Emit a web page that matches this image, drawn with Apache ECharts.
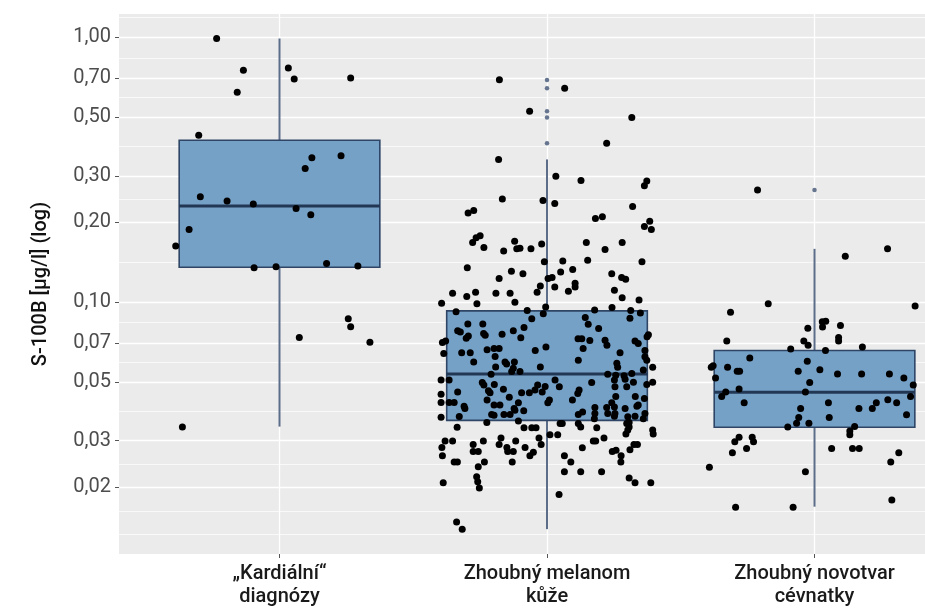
<!DOCTYPE html>
<html>
<head>
<meta charset="utf-8">
<script src="https://cdn.jsdelivr.net/npm/echarts@6/dist/echarts.min.js"></script>
<style>
  html, body { margin: 0; background: #fff; }
  #chart { width: 925px; height: 610px; }
</style>
</head>
<body>
<div id="chart"></div>
<script>
// kategorie na ose x
const groups = ['„Kardiální“\ndiagnózy', 'Zhoubný melanom\nkůže', 'Zhoubný novotvar\ncévnatky'];

// popisky osy y (log)
const yTicks = [0.02, 0.03, 0.05, 0.07, 0.1, 0.2, 0.3, 0.5, 0.7, 1];
const yMinor = [0.0133, 0.0163, 0.0245, 0.0387, 0.0592, 0.0837, 0.1414, 0.245, 0.387, 0.592, 0.837, 1.195];

// krabice: dolni vous, Q1, median, Q3, horni vous
const boxLow = [0.0339, 0.0139, 0.0169];
const boxQ1 = [0.1355, 0.0358, 0.0337];
const boxMedian = [0.231, 0.0536, 0.0457];
const boxQ3 = [0.409, 0.0927, 0.0657];
const boxHigh = [0.99, 0.346, 0.159];
const outliers = [[], [0.690, 0.642, 0.526, 0.498, 0.398], [0.265]];

// jednotlive hodnoty (jitter = posun v ose x)
const g1Val = [0.99,0.751,0.766,0.696,0.702,0.62,0.427,0.351,0.357,0.320,0.250,0.241,0.235,0.226,0.214,0.188,0.163,0.135,0.136,0.140,0.137,0.0736,0.0866,0.0808,0.0706,0.0338];
const g1Jit = [-0.235,-0.135,0.033,0.055,0.266,-0.158,-0.302,0.121,0.230,0.096,-0.296,-0.196,-0.098,0.062,0.117,-0.338,-0.388,-0.095,-0.013,0.176,0.293,0.074,0.257,0.266,0.338,-0.363];

const g2Val = [0.692,0.642,0.526,0.498,0.398,0.346,0.299,0.288,0.287,0.275,
  0.245,0.242,0.236,0.230,0.222,0.217,0.210,0.207,0.202,0.193,
  0.188,0.178,0.175,0.168,0.170,0.166,0.168,0.168,0.161,0.156,
  0.159,0.160,0.159,0.158,0.142,0.143,0.144,0.142,0.135,0.131,
  0.128,0.130,0.133,0.128,
  0.123,0.123,0.124,0.118,0.114,0.124,0.122,0.108,0.105,0.109,
  0.0987,0.108,0.108,0.100,0.109,0.115,0.114,0.110,0.111,0.104,
  0.102,0.099,0.0958,0.0920,0.0931,0.0904,0.0935,0.0955,0.0931,0.0910,
  0.0869,0.0866,0.0876,0.0826,0.0828,0.0828,0.0803,0.0795,0.0780,0.0771,
  0.0746,0.0731,0.0762,0.0750,0.0756,0.0780,0.0734,0.0728,0.0728,0.0716,
  0.0718,0.0688,0.0714,0.0698,0.0753,0.0740,0.0705,0.0714,0.0661,0.0669,
  0.0669,0.0645,0.0645,0.0657,0.0677,0.0669,0.0645,0.0657,0.0640,
  0.0624,0.0595,0.0569,0.0595,0.0584,0.0595,0.0563,0.0547,0.0547,0.0569,
  0.0604,0.0588,0.0568,0.0622,0.0604,0.0568,0.0554,0.0535,0.0535,0.0530,
  0.0528,0.0538,0.0508,0.0508,0.0497,0.0487,0.0489,0.0487,0.0480,0.0458,
  0.0508,0.0479,0.0497,0.0508,0.0479,0.0512,0.0479,0.0499,0.0489,0.0499,
  0.0458,0.0463,0.0455,0.0469,0.0438,0.0455,0.0455,0.0466,0.0449,0.0466,
  0.0452,0.0427,0.0440,0.0433,0.0440,0.0418,0.0418,0.0418,0.0405,0.0397,
  0.0427,0.0409,0.0409,0.0417,0.0397,0.0427,0.0417,0.0400,0.0380,0.0400,
  0.0417,0.0402,0.0380,0.0397,0.0405,0.0409,0.0368,0.0370,0.0377,0.0374,
  0.0377,0.0377,0.0391,0.0389,0.0377,0.0385,0.0363,0.0380,0.0371,0.0369,
  0.0351,0.0371,0.0363,0.0380,0.0351,0.0356,0.0337,0.0336,0.0336,0.0336,
  0.0348,0.0348,0.0348,0.0338,0.0336,0.0348,0.0338,0.0329,
  0.0318,0.0318,0.0316,0.0316,0.0299,0.0299,0.0299,0.0307,0.0299,0.0307,
  0.0290,0.0290,0.0283,0.0273,0.0273,0.0283,0.0290,0.0283,0.0273,0.0273,
  0.0271,0.0263,0.0249,0.0239,0.0263,0.0249,0.0249,0.0249,0.0219,0.0210,
  0.0199,0.0208,0.0148,0.0139,0.0299,0.0299,0.0307,0.0282,0.0263,0.0249,
  0.0229,0.0229,0.0229,0.0188,0.0273,0.0276,0.0263,0.0249,0.0277,0.0290,
  0.0290,0.0217,0.0208,0.0208,0.0329];
const g2Jit = [-0.178,0.066,-0.065,0.317,0.223,-0.181,0.033,0.127,0.373,0.364,
  -0.167,-0.015,0.029,0.320,-0.274,-0.295,0.207,0.181,0.384,0.364,
  0.390,-0.250,-0.265,-0.278,-0.121,-0.020,0.147,0.281,-0.236,-0.162,
  -0.113,-0.101,-0.060,0.217,-0.010,0.059,0.152,0.355,-0.298,-0.133,
  -0.090,0.051,0.096,0.242,
  -0.179,0.004,0.019,0.105,0.105,0.279,0.294,-0.353,-0.300,-0.267,
  -0.262,-0.191,-0.138,-0.120,-0.037,-0.025,0.029,0.080,0.252,0.281,
  0.344,-0.394,-0.005,-0.340,-0.074,-0.014,0.178,0.243,0.313,0.349,
  0.310,-0.057,0.143,0.154,-0.296,-0.240,-0.086,0.193,-0.334,-0.324,
  -0.294,-0.302,-0.237,-0.231,-0.168,-0.126,-0.098,0.116,0.130,0.160,
  0.217,0.224,0.329,0.341,0.379,0.374,-0.391,-0.379,-0.224,-0.198,
  -0.179,-0.319,-0.287,-0.044,-0.004,0.135,0.273,0.366,-0.386,
  -0.194,-0.274,-0.192,-0.157,-0.151,-0.122,-0.126,-0.132,-0.101,-0.025,
  0.117,0.261,0.264,0.366,0.373,0.395,0.360,-0.209,0.227,0.257,
  0.288,0.317,-0.396,-0.366,-0.242,-0.236,-0.197,-0.035,-0.007,-0.018,
  0.030,0.046,0.167,0.252,0.254,0.292,0.298,0.323,0.373,0.395,
  -0.334,-0.219,-0.213,-0.163,-0.141,-0.095,-0.066,-0.045,-0.396,0.120,
  0.115,0.095,0.330,0.364,0.257,-0.396,-0.366,-0.347,-0.310,-0.307,
  -0.224,-0.198,-0.176,-0.107,-0.123,0.009,0.003,0.179,0.179,0.223,
  0.242,0.252,0.254,0.292,0.336,0.341,-0.396,-0.328,-0.207,-0.198,
  -0.161,-0.138,-0.120,-0.087,0.117,0.133,0.177,0.227,0.252,0.302,
  0.307,0.329,0.360,0.366,-0.225,-0.107,-0.336,-0.086,-0.057,-0.041,
  0.049,0.057,0.117,0.126,0.186,0.298,0.307,0.395,
  0.295,0.397,0.011,0.040,-0.381,-0.353,-0.238,-0.172,-0.117,-0.030,
  -0.022,-0.179,-0.150,-0.147,-0.126,-0.082,-0.276,-0.393,-0.276,-0.257,
  -0.051,-0.064,-0.234,-0.257,-0.391,-0.347,-0.335,-0.130,-0.263,-0.259,
  -0.253,-0.388,-0.338,-0.317,0.173,0.182,0.213,0.132,0.065,0.089,
  0.065,0.126,0.204,0.045,0.244,0.258,0.277,0.276,0.310,0.325,
  0.338,0.307,0.329,0.388,0.302];

const g3Val = [0.265,0.159,0.149,0.0987,0.0916,0.0967,0.0797,0.0843,0.0848,0.0806,
  0.0817,0.0714,0.0688,0.0735,0.0714,0.0714,0.0665,0.0677,0.0657,0.0616,
  0.0598,0.0568,0.0575,0.0568,0.0549,0.0549,0.0549,0.0556,0.0536,0.0536,
  0.0536,0.0517,0.0517,0.0498,0.0487,0.0470,0.0458,0.0440,0.0458,0.0417,
  0.0417,0.0417,0.0428,0.0417,0.0440,0.0397,0.0397,0.0397,0.0376,0.0367,
  0.0367,0.0349,0.0349,0.0338,0.0339,0.0326,0.0316,0.0309,0.0297,0.0309,
  0.0297,0.0270,0.0280,0.0280,0.0280,0.0280,0.0238,0.0229,0.0249,0.0270,
  0.0168,0.0168,0.0179];
const g3Jit = [-0.213,0.273,0.115,-0.173,-0.314,0.376,-0.025,0.029,0.042,0.030,
  0.097,-0.040,-0.024,0.090,0.090,-0.328,-0.089,0.179,0.041,-0.242,
  -0.027,-0.386,-0.379,-0.325,-0.289,-0.280,-0.061,0.020,0.086,0.176,
  0.280,0.334,-0.370,-0.018,0.369,-0.282,-0.332,-0.347,-0.034,-0.263,
  0.052,0.231,0.274,0.307,0.359,0.216,0.166,-0.052,0.344,-0.059,
  0.055,-0.067,-0.021,-0.100,0.150,0.132,0.132,-0.282,-0.298,-0.233,
  -0.228,-0.307,-0.254,0.064,0.142,0.167,-0.393,-0.034,0.285,0.315,
  -0.295,-0.080,0.289];

const font = 'Roboto, "Liberation Sans", sans-serif';
const boxWidth = 0.75;

const chart = echarts.init(document.getElementById('chart'));

const boxData = groups.map((g, i) => [i + 1, boxLow[i], boxQ1[i], boxMedian[i], boxQ3[i], boxHigh[i]]);
let pointData = [];
[[g1Val, g1Jit], [g2Val, g2Jit], [g3Val, g3Jit]].forEach(([vals, jit], i) => {
  vals.forEach((v, k) => pointData.push([i + 1 + jit[k], v]));
});
let outlierData = [];
outliers.forEach((list, i) => list.forEach(v => outlierData.push([i + 1, v])));

chart.setOption({
  animation: false,
  backgroundColor: '#fff',
  grid: {
    left: 119, top: 14, right: 0, bottom: 56,
    show: true, backgroundColor: '#ebebeb', borderWidth: 0
  },
  // rozsah 0.4 .. 3.6 je vpravo oriznuty okrajem obrazku
  xAxis: {
    type: 'value', min: 0.4, max: 3.413,
    axisLine: { show: false },
    axisTick: { show: true, length: 4, customValues: [1, 2, 3], lineStyle: { color: '#555', width: 1 } },
    axisLabel: {
      customValues: [1, 2, 3],
      formatter: v => groups[Math.round(v) - 1],
      color: '#1a1a1a', fontSize: 20, fontWeight: 500, lineHeight: 23, margin: 8, fontFamily: font
    },
    splitLine: { show: true, lineStyle: { color: '#fff', width: 1.3 } }
  },
  yAxis: [{
    type: 'log', logBase: 10, min: 0.0112, max: 1.225,
    name: 'S-100B [µg/l] (log)', nameLocation: 'middle', nameGap: 68,
    nameTextStyle: { color: '#111', fontSize: 20, fontWeight: 500, fontFamily: font },
    axisLine: { show: false },
    axisTick: { show: true, length: 4, customValues: yTicks, lineStyle: { color: '#555', width: 1 } },
    axisLabel: {
      customValues: yTicks,
      formatter: v => v.toFixed(2).replace('.', ','),
      color: '#4d4d4d', fontSize: 20, margin: 8, fontFamily: font
    },
    splitLine: { show: true, lineStyle: { color: '#fff', width: 1.3 } }
  }, {
    type: 'log', logBase: 10, min: 0.0112, max: 1.225,
    axisLine: { show: false },
    axisTick: { show: false, customValues: yMinor },
    axisLabel: { show: false, customValues: yMinor },
    splitLine: { show: true, lineStyle: { color: '#fff', width: 0.7 } }
  }],
  series: [{
    type: 'custom',
    data: boxData,
    encode: { x: 0, y: [1, 2, 3, 4, 5] },
    renderItem: function (params, api) {
      const x = api.value(0);
      const med = api.value(3);
      const left = api.coord([x - boxWidth / 2, med])[0];
      const right = api.coord([x + boxWidth / 2, med])[0];
      const cx = api.coord([x, med])[0];
      const yLow = api.coord([x, api.value(1)])[1];
      const yQ1 = api.coord([x, api.value(2)])[1];
      const yMed = api.coord([x, med])[1];
      const yQ3 = api.coord([x, api.value(4)])[1];
      const yHigh = api.coord([x, api.value(5)])[1];
      return {
        type: 'group',
        children: [
          { type: 'line', shape: { x1: cx, y1: yQ3, x2: cx, y2: yHigh }, style: { stroke: '#5c6d8a', lineWidth: 2 } },
          { type: 'line', shape: { x1: cx, y1: yQ1, x2: cx, y2: yLow }, style: { stroke: '#5c6d8a', lineWidth: 2 } },
          { type: 'rect', shape: { x: left, y: yQ3, width: right - left, height: yQ1 - yQ3 },
            style: { fill: '#76a1c7', stroke: '#2e4566', lineWidth: 1.6 } },
          { type: 'line', shape: { x1: left, y1: yMed, x2: right, y2: yMed }, style: { stroke: '#223754', lineWidth: 3 } }
        ]
      };
    }
  }, {
    type: 'scatter',
    data: outlierData,
    symbolSize: 4.5,
    itemStyle: { color: '#66758f', opacity: 1 }
  }, {
    type: 'scatter',
    data: pointData,
    symbolSize: 7,
    itemStyle: { color: '#000', opacity: 1 }
  }]
});
</script>
</body>
</html>
